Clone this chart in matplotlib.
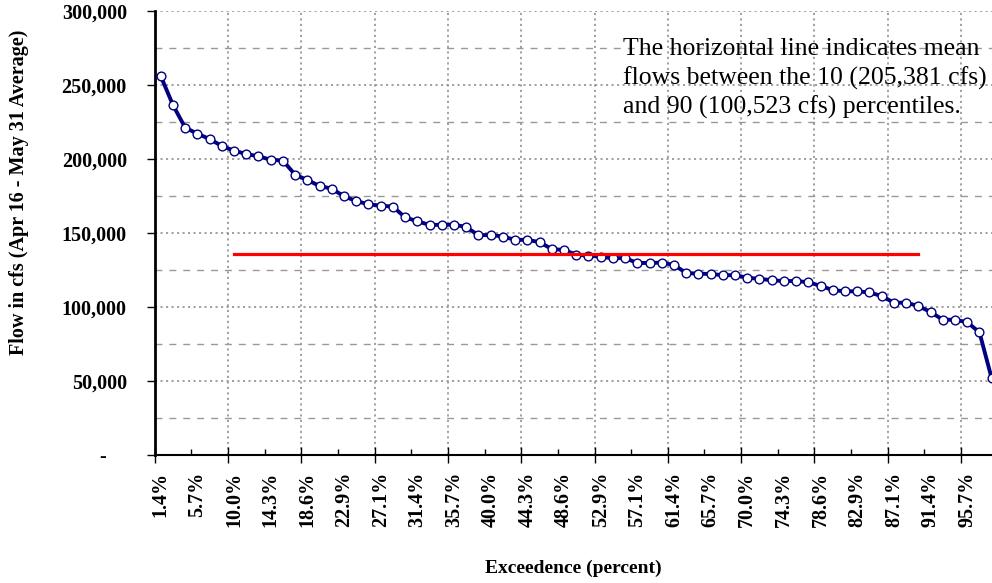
import numpy as np
import matplotlib.pyplot as plt
from matplotlib.ticker import FixedLocator

# flow values (cfs), one per category (1/70 steps of exceedence)
flow = [256100, 236500, 221200, 217100, 213500, 208800, 205600, 203400, 201800, 199500,
        198900, 189400, 185800, 181800, 179900, 174800, 171600, 169400, 168500, 167800,
        160600, 157900, 155500, 155500, 155700, 154000, 148500, 148700, 147600, 145400,
        145400, 143800, 139200, 138500, 135400, 134600, 134000, 132900, 133100, 129700,
        129800, 130000, 128400, 123000, 122500, 122300, 121500, 121500, 119800, 119000,
        118100, 117500, 117600, 116700, 114300, 111400, 110600, 110600, 109800, 107400,
        102900, 102900, 100700, 96600, 91400, 91400, 89700, 82900, 51800]
n_categories = 70

# labelled categories (every third one)
label_cats = [1, 4, 7, 10, 13, 16, 19, 22, 25, 28, 31, 34, 37, 40, 43, 46, 49, 52, 55, 58, 61, 64, 67]
x_labels = ["1.4%", "5.7%", "10.0%", "14.3%", "18.6%", "22.9%", "27.1%", "31.4%", "35.7%",
            "40.0%", "44.3%", "48.6%", "52.9%", "57.1%", "61.4%", "65.7%", "70.0%", "74.3%",
            "78.6%", "82.9%", "87.1%", "91.4%", "95.7%"]

y_ticks = [0, 50000, 100000, 150000, 200000, 250000, 300000]
y_labels = ["-    ", "50,000", "100,000", "150,000", "200,000", "250,000", "300,000"]

# mean flow between the 10 and 90 percentiles
mean_flow = 135500
mean_start, mean_end = 7, 63

note = ("The horizontal line indicates mean\n"
        "flows between the 10 (205,381 cfs)\n"
        "and 90 (100,523 cfs) percentiles.")

serif = "Liberation Serif"

fig = plt.figure(figsize=(9.92, 5.83), dpi=100)
W, H = 992, 583
ax = fig.add_axes([154.6 / W, (H - 455) / H, 855.4 / W, 444 / H])

cats = np.arange(1, len(flow) + 1)
ax.plot(cats, flow, color="#000080", lw=2.8, marker="o", ms=6.3,
        mfc="white", mec="#000080", mew=1.0, zorder=3)
ax.plot([mean_start, mean_end], [mean_flow, mean_flow], color="#ff0000", lw=2.3, zorder=4)

ax.set_xlim(0.5, n_categories + 0.5)
ax.set_ylim(0, 300000)

# x axis: ticks sit on category boundaries, labels on category centres
bounds = np.arange(0.5, n_categories + 0.5, 3)
ax.xaxis.set_major_locator(FixedLocator(bounds[::2]))
ax.xaxis.set_minor_locator(FixedLocator(label_cats))
ax.set_xticklabels([], minor=False)
ax.set_xticklabels(x_labels, minor=True, rotation=90, fontfamily=serif,
                   fontweight="bold", fontsize=14.5)
ax.tick_params(axis="x", which="major", direction="inout", length=11, width=1, color="black")
ax.tick_params(axis="x", which="minor", length=0, pad=12)
sec = ax.secondary_xaxis("bottom")
sec.set_xticks(bounds[1::2])
sec.set_xticklabels([])
sec.tick_params(direction="in", length=4, width=1)
sec.spines["bottom"].set_visible(False)

# y axis
ax.set_yticks(y_ticks)
ax.set_yticklabels(y_labels, fontfamily=serif, fontweight="bold", fontsize=14.5)
ax.yaxis.set_minor_locator(FixedLocator([25000, 75000, 125000, 175000, 225000, 275000]))
ax.tick_params(axis="y", which="major", direction="out", length=6, width=1, pad=14)
ax.tick_params(axis="y", which="minor", length=0)

# gridlines
ax.grid(axis="y", which="major", color="#888888", lw=1.1, linestyle=(0, (1.4, 2.2)))
ax.grid(axis="y", which="minor", color="#999999", lw=1.0, linestyle=(0, (5, 5)))
ax.grid(axis="x", which="major", color="#888888", lw=1.1, linestyle=(0, (1.4, 2.2)))
ax.set_axisbelow(True)

for side in ["top", "right"]:
    ax.spines[side].set_visible(False)
ax.spines["left"].set_linewidth(2)
ax.spines["bottom"].set_linewidth(1.5)

fig.text(19 / W, 1 - 192 / H, "Flow in cfs (Apr 16 - May 31 Average)", rotation=90,
         ha="center", va="center", fontfamily=serif, fontweight="bold", fontsize=14.5)
fig.text(573 / W, 1 - 568 / H, "Exceedence (percent)", ha="center", va="center",
         fontfamily=serif, fontweight="bold", fontsize=14)
fig.text(623 / W, 1 - 38 / H, note, ha="left", va="top", fontfamily=serif,
         fontsize=18.5, linespacing=1.35)

fig.savefig("out.png", dpi=100)
